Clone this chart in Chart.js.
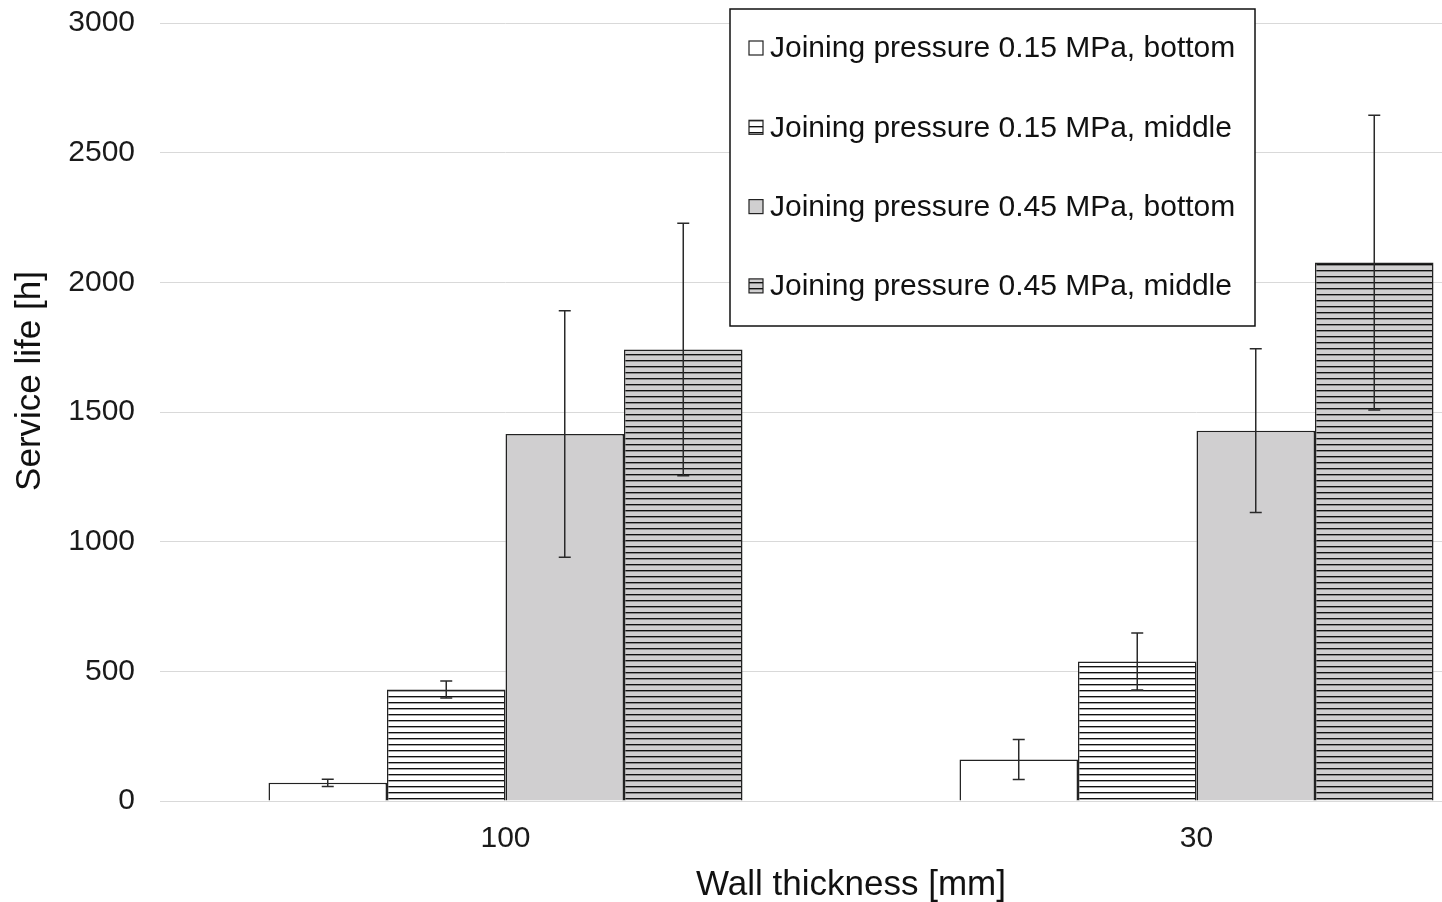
<!DOCTYPE html>
<html>
<head>
<meta charset="utf-8">
<title>Service life</title>
<script src="https://cdn.jsdelivr.net/npm/chart.js@4.4.1/dist/chart.umd.min.js"></script>
<style>
    body { margin: 0; overflow: hidden; background: #fff; }
    #wrap { width: 1545px; height: 902px; }
</style>
</head>
<body>
<div id="wrap"><canvas id="myChart" width="1545" height="902"></canvas></div>
<script>
const wallThickness = ['100', '30']

const bottom015 = [70, 160]
const bottom015Err = [14, 77]
const middle015 = [430, 538]
const middle015Err = [33, 110]
const bottom045 = [1415, 1428]
const bottom045Err = [475, 316]
const middle045 = [1741, 2076]
const middle045Err = [487, 568]

const seriesNames = [
    'Joining pressure 0.15 MPa, bottom',
    'Joining pressure 0.15 MPa, middle',
    'Joining pressure 0.45 MPa, bottom',
    'Joining pressure 0.45 MPa, middle'
]
const yTitle = 'Service life [h]'

const fontName = '"Liberation Sans", Arial, sans-serif'

// horizontal hatch fill, one dark line every 6px
function stripes(bg) {
    let c = document.createElement('canvas')
    c.width = 6
    c.height = 6
    let g = c.getContext('2d')
    g.fillStyle = bg
    g.fillRect(0, 0, 6, 6)
    g.fillStyle = '#111'
    g.fillRect(0, 0, 6, 1)
    g.fillStyle = 'rgba(0,0,0,0.35)'
    g.fillRect(0, 1, 6, 1)
    return g.createPattern(c, 'repeat')
}

const fills = ['#ffffff', stripes('#ffffff'), '#d0cfd0', stripes('#d0cfd0')]
const errors = [bottom015Err, middle015Err, bottom045Err, middle045Err]

const errorBars = {
    id: 'errorBars',
    afterDatasetsDraw(chart) {
        const ctx = chart.ctx
        const y = chart.scales.y
        ctx.save()
        ctx.strokeStyle = '#2a2a2a'
        ctx.lineWidth = 1.5
        chart.data.datasets.forEach((ds, i) => {
            const meta = chart.getDatasetMeta(i)
            meta.data.forEach((bar, j) => {
                const v = ds.data[j]
                const e = errors[i][j]
                const top = y.getPixelForValue(v + e)
                const bot = y.getPixelForValue(v - e)
                ctx.beginPath()
                ctx.moveTo(bar.x, top)
                ctx.lineTo(bar.x, bot)
                ctx.moveTo(bar.x - 6, top)
                ctx.lineTo(bar.x + 6, top)
                ctx.moveTo(bar.x - 6, bot)
                ctx.lineTo(bar.x + 6, bot)
                ctx.stroke()
            })
        })
        ctx.restore()
    }
}

// boxed legend sitting inside the plot, top right + the y title (sits a bit above centre)
const boxLegend = {
    id: 'boxLegend',
    afterDraw(chart) {
        const ctx = chart.ctx
        ctx.save()
        ctx.fillStyle = '#fff'
        ctx.fillRect(730, 9, 525, 317)
        ctx.strokeStyle = '#111'
        ctx.lineWidth = 1.5
        ctx.strokeRect(730, 9, 525, 317)
        ctx.font = '30px ' + fontName
        ctx.textBaseline = 'middle'
        ctx.textAlign = 'left'
        seriesNames.forEach((name, i) => {
            const cy = 48 + i * 79.3
            ctx.fillStyle = fills[i]
            ctx.fillRect(749, cy - 7, 14, 14)
            ctx.strokeStyle = '#222'
            ctx.lineWidth = 1.2
            ctx.strokeRect(749, cy - 7, 14, 14)
            ctx.fillStyle = '#111'
            ctx.fillText(name, 770, cy + 1)
        })

        ctx.translate(30, 381)
        ctx.rotate(-Math.PI / 2)
        ctx.textAlign = 'center'
        ctx.font = '35px ' + fontName
        ctx.fillText(yTitle, 0, 0)
        ctx.restore()
    }
}

const datasets = [bottom015, middle015, bottom045, middle045].map((vals, i) => ({
    label: seriesNames[i],
    data: vals,
    backgroundColor: fills[i],
    borderColor: '#222',
    borderWidth: 1.5,
    categoryPercentage: 0.686,
    barPercentage: 1
}))

const ctx = document.getElementById('myChart').getContext('2d')
const myChart = new Chart(ctx, {
    type: 'bar',
    data: { labels: wallThickness, datasets: datasets },
    plugins: [errorBars, boxLegend],
    options: {
        responsive: false,
        animation: false,
        layout: { padding: { top: 23, right: 3, bottom: 0, left: 0 } },
        plugins: { legend: { display: false }, tooltip: { enabled: false } },
        scales: {
            x: {
                grid: { display: false },
                border: { display: false },
                ticks: { color: '#1a1a1a', font: { family: fontName, size: 30 }, padding: 12 },
                title: {
                    display: true, text: 'Wall thickness [mm]', color: '#111',
                    font: { family: fontName, size: 35 }, padding: { top: 0, bottom: -4 }
                },
                afterFit(scale) { scale.height = 101 }
            },
            y: {
                min: 0,
                max: 3000,
                ticks: {
                    stepSize: 500, color: '#1a1a1a', font: { family: fontName, size: 30 }, padding: 25,
                    callback: v => String(v)
                },
                grid: { color: '#d9d9d9', lineWidth: 1, drawTicks: false },
                border: { display: false },
                afterFit(scale) {
                    scale.width = 160
                    scale.paddingTop = 0
                    scale.paddingBottom = 0
                }
            }
        }
    }
})
</script>
</body>
</html>
